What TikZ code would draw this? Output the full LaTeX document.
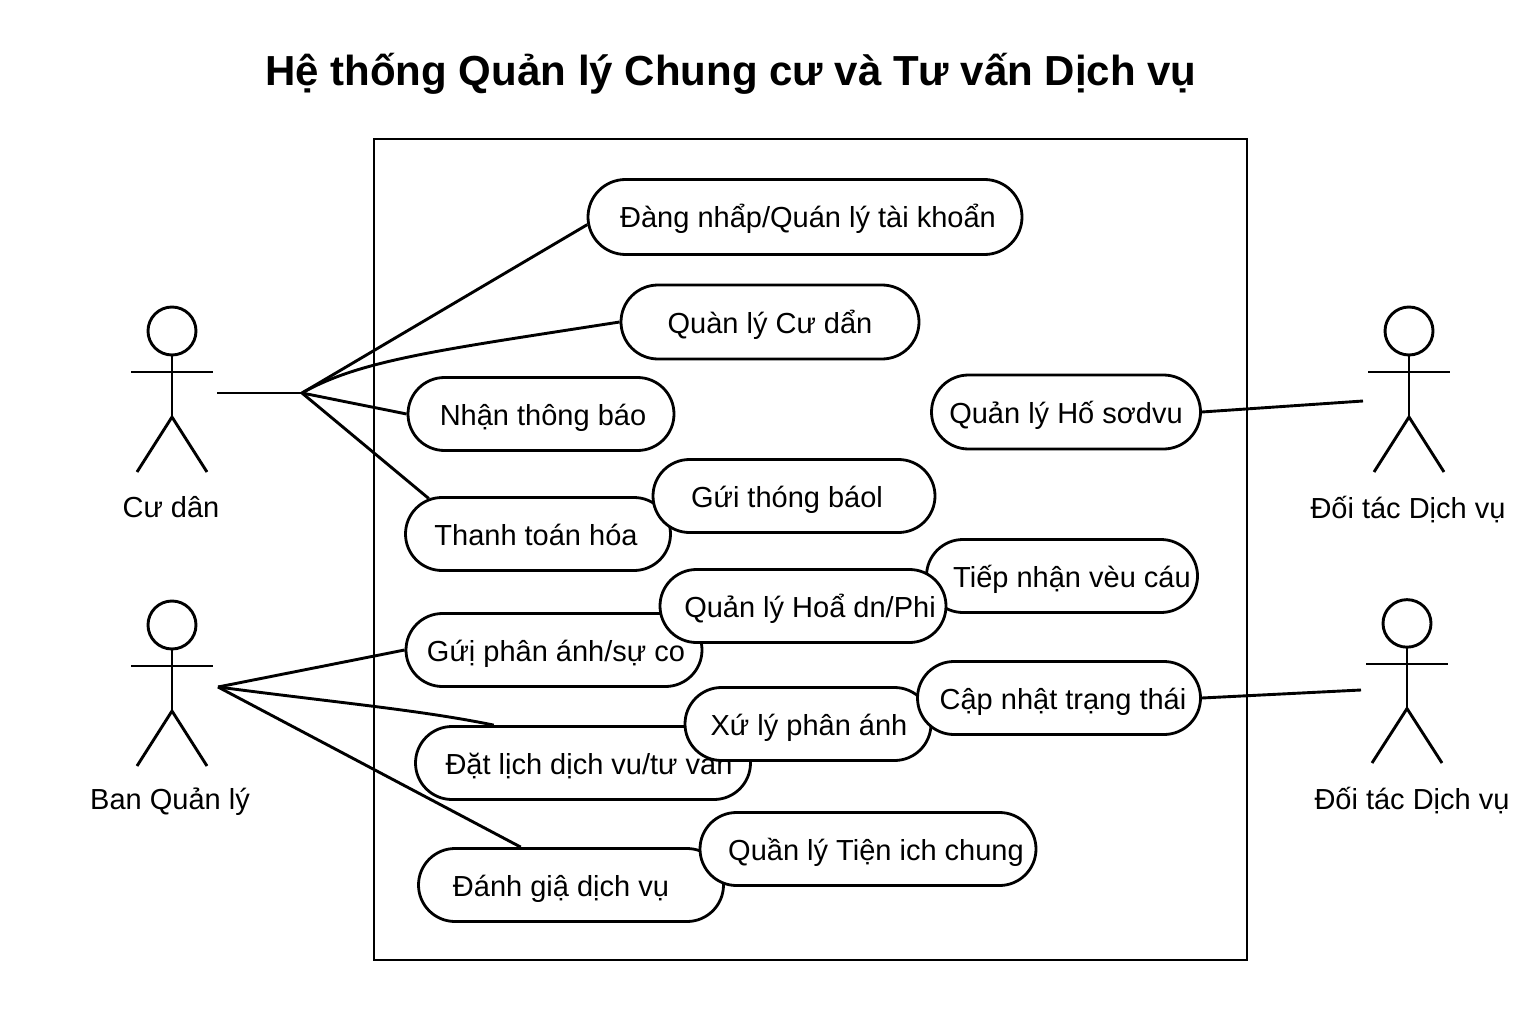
\documentclass[tikz,border=0pt]{standalone}
\usepackage{fontspec}
\setmainfont{Liberation Sans}
\usetikzlibrary{shapes.misc}
\newcommand{\nudge}[1]{\hspace*{#1pt}}
\tikzset{
  usecase/.style={draw, fill=white, line width=2.8pt, rounded rectangle, inner sep=0pt, text height=24pt, text depth=2pt, font=\fontsize{29}{32}\selectfont},
  actorname/.style={font=\fontsize{29}{32}\selectfont},
  link/.style={line width=2.9pt},
  actor/.pic={
    \draw[link] (0,-41) circle (24);
    \draw[link] (-41,0) -- (41,0);
    \draw[link] (0,-17) -- (0,45);
    \draw[link] (-35,100) -- (0,45) -- (35,100);
  }
}

\begin{document}
\begin{tikzpicture}[x=1pt,y=-1pt]
  \useasboundingbox (0,0) rectangle (1536,1024);

  %Titulo
  \node[font=\fontsize{42}{48}\selectfont\bfseries] (title) at (731,74) {Hệ thống Quản lý Chung cư và Tư vấn Dịch vụ};

  %Khung he thong
  \draw[line width=2.8pt] (374,139) rectangle (1247,960);

  %Cac ca su dung ben trai
  \node[usecase, minimum width=434, minimum height=75] (login) at (805,217) {\nudge{6}Đàng nhẩp/Quán lý tài khoẩn};
  \node[usecase, minimum width=298, minimum height=74] (resident) at (770,322) {Quàn lý Cư dẩn};
  \node[usecase, minimum width=266, minimum height=73] (notice) at (541,414) {\nudge{4}Nhận thông báo};
  \node[usecase, minimum width=265, minimum height=73] (pay) at (538,534) {\nudge{-4}Thanh toán hóa};
  \node[usecase, minimum width=296, minimum height=73] (report) at (554,650) {\nudge{4}Gứị phân ánh/sự co};
  \node[usecase, minimum width=335, minimum height=73] (booking) at (583,763) {\nudge{12}Đặt lịch dịch vu/tư vấn};
  \node[usecase, minimum width=305, minimum height=73] (rate) at (571,885) {\nudge{-20}Đánh giậ dịch vụ};

  %Cac ca su dung ben phai (ve sau de nam tren)
  \node[usecase, minimum width=282, minimum height=73] (send) at (794,496) {\nudge{-14}Gứi thóng báol};
  \node[usecase, minimum width=271, minimum height=73] (request) at (1062,576) {\nudge{20}Tiếp nhận vèu cáu};
  \node[usecase, minimum width=286, minimum height=73] (invoice) at (803,606) {\nudge{14}Quản lý Hoẩ dn/Phi};
  \node[usecase, minimum width=246, minimum height=73] (handle) at (808,724) {\nudge{2}Xứ lý phân ánh};
  \node[usecase, minimum width=283, minimum height=73] (update) at (1059,698) {\nudge{8}Cập nhật trạng thái};
  \node[usecase, minimum width=336, minimum height=73] (utility) at (868,849) {\nudge{16}Quần lý Tiện ich chung};
  \node[usecase, minimum width=269, minimum height=74] (records) at (1066,412) {Quản lý Hố sơdvu};

  %Cac tac nhan
  \pic at (172,372) {actor};
  \node[actorname] (resident actor) at (171,507) {Cư dân};
  \pic at (172,666) {actor};
  \node[actorname] (board actor) at (170,802) {Ban Quản lý};
  \pic at (1409,372) {actor};
  \node[actorname] (partner one) at (1408,510) {Đối tác Dịch vụ};
  \pic[yscale=0.99] at (1407,664) {actor};
  \node[actorname] (partner two) at (1412,801) {Đối tác Dịch vụ};

  %Duong noi Cu dan
  \coordinate (resident end) at (217,393);
  \coordinate (resident hub) at (302,393);
  \draw[link] (resident end) -- (resident hub);
  \draw[link] (resident hub) -- (login.182);
  \draw[link] (resident hub) .. controls (360,360) and (440,350) .. (resident.west);
  \draw[link] (resident hub) -- (notice.west);
  \draw[link] (resident hub) -- (pay.162);

  %Duong noi Ban Quan ly
  \coordinate (board hub) at (218,687);
  \draw[link] (board hub) -- (report.west);
  \draw[link] (board hub) .. controls (340,703) and (420,710) .. (booking.157);
  \draw[link] (board hub) -- (rate.143);

  %Duong noi Doi tac
  \coordinate (partner one end) at (1363,401);
  \coordinate (partner two end) at (1361,690);
  \draw[link] (records.east) -- (partner one end);
  \draw[link] (update.east) -- (partner two end);
\end{tikzpicture}
\end{document}
